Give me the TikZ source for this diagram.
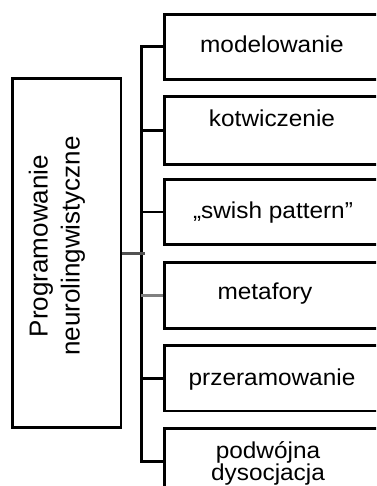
\documentclass[tikz,border=0pt]{standalone}
\usepackage{fontspec}
\setmainfont{Liberation Sans}
\begin{document}
\begin{tikzpicture}[x=1pt,y=-1pt,
  box/.style={draw, line width=2.6pt, inner sep=0pt, minimum width=218pt, anchor=north west},
  mainbox/.style={draw, line width=2.6pt, inner sep=0pt, minimum width=108.6pt, minimum height=349pt},
  lbl/.style={anchor=base, inner sep=0pt, xscale=1.06, font=\fontsize{23}{26}\selectfont},
  mainlbl/.style={rotate=90, inner sep=0pt, align=center, font=\fontsize{26}{32}\selectfont},
  wire/.style={line width=2.7pt},
  greywire/.style={line width=2.7pt, draw=black!50},
  darkwire/.style={line width=2.7pt, draw=black!68}
]
\useasboundingbox (0,0) rectangle (376,486);
\begin{scope}
\clip (0,0) rectangle (376,486);
% main box
\node[mainbox] (main) at (66.5,253.2) {};
\node[mainlbl] (maintext) at (57,246) {Programowanie\\neurolingwistyczne};
% right boxes
\node[box, minimum height=65pt] (b1) at (163,13) {};
\node[box, minimum height=68.3pt] (b2) at (163,95) {};
\node[box, minimum height=64.7pt] (b3) at (163,178.3) {};
\node[box, minimum height=66pt] (b4) at (163,261.3) {};
\node[box, minimum height=65.2pt] (b5) at (163,344.3) {};
\node[box, minimum height=66pt] (b6) at (163,427) {};
% labels
\node[lbl] (t1) at (272,53) {modelowanie};
\node[lbl] (t2) at (272,126.7) {kotwiczenie};
\node[lbl] (t3) at (273,218) {„swish pattern”};
\node[lbl] (t4) at (265,299.7) {metafory};
\node[lbl] (t5) at (272,385) {przeramowanie};
\node[lbl] (t6a) at (268,458) {podwójna};
\node[lbl] (t6b) at (268,480) {dysocjacja};
% bus and branches
\coordinate (bx) at (141.3,0);
\draw[wire] (b1.west) -- (bx |- b1.west) -- (bx |- b6.west) -- (b6.west);
\draw[wire] (b2.west) -- (bx |- b2.west);
\draw[wire] (b3.west) -- (bx |- b3.west);
\draw[greywire] (b4.west) -- (bx |- b4.west);
\draw[wire] (b5.west) -- (bx |- b5.west);
\draw[darkwire] (main.east) -- ([xshift=3.5pt]bx |- main.east);
\end{scope}
\end{tikzpicture}
\end{document}
